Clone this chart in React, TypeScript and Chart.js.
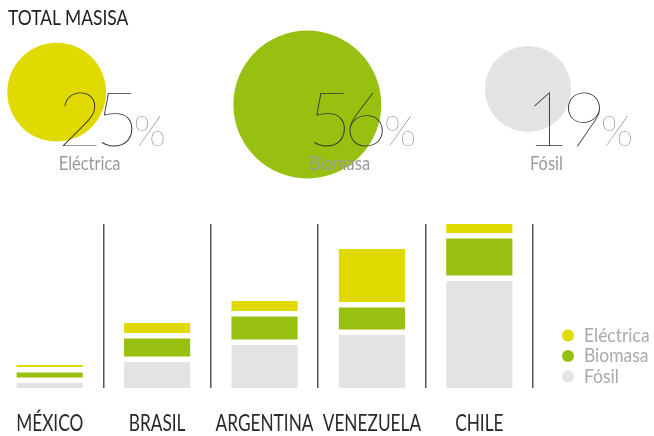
import React, { useEffect, useRef } from "react";
import { Chart, registerables } from "chart.js";

Chart.register(...registerables);

// ---------- data ----------
const TITLE_WORDS = ["TOTAL", "MASISA"];
const MIX_LABELS = ["Eléctrica", "Biomasa", "Fósil"];
const MIX_PERCENT = [25, 56, 19];
const MIX_COLORS = ["#E0DA00", "#98C010", "#E2E3E2"];

const COUNTRIES = ["MÉXICO", "BRASIL", "ARGENTINA", "VENEZUELA", "CHILE"];
const FOSIL = [5, 26, 43, 53, 107];
const BIOMASA = [5, 18, 23, 22, 37];
const ELECTRICA = [2, 10, 10, 53, 9];

// ---------- layout / style constants ----------
const BUBBLE_CX = [56.7, 307.3, 528];
const BUBBLE_K = 9.88; // px radius per sqrt(percent) -> area proportional
const SEG_GAP = 5.5;
const Y_MAX = 164;
const FONT = "Lato, 'Open Sans', sans-serif";

function drawText(
  ctx: CanvasRenderingContext2D,
  text: string,
  x: number,
  y: number,
  font: string,
  color: string,
  sx: number,
  align: CanvasTextAlign = "left"
) {
  ctx.save();
  ctx.font = font;
  ctx.fillStyle = color;
  ctx.textAlign = align;
  ctx.textBaseline = "alphabetic";
  ctx.translate(x, y);
  ctx.scale(sx, 1);
  ctx.fillText(text, 0, 0);
  const w = ctx.measureText(text).width * sx;
  ctx.restore();
  return w;
}

// draws glyphs packed by their visible ink (proportional figures); returns right edge of ink
function drawPacked(
  ctx: CanvasRenderingContext2D,
  text: string,
  x: number,
  y: number,
  font: string,
  color: string,
  sx: number,
  gap: number
) {
  ctx.save();
  ctx.font = font;
  ctx.fillStyle = color;
  ctx.textAlign = "left";
  ctx.textBaseline = "alphabetic";
  let cursor = x;
  let end = x;
  for (const ch of text) {
    const m = ctx.measureText(ch);
    const l = m.actualBoundingBoxLeft;
    const r = m.actualBoundingBoxRight;
    ctx.save();
    ctx.translate(cursor + l * sx, y);
    ctx.scale(sx, 1);
    ctx.fillText(ch, 0, 0);
    ctx.restore();
    end = cursor + (l + r) * sx;
    cursor = end + gap;
  }
  ctx.restore();
  return end;
}

export default function App() {
  const topRef = useRef<HTMLCanvasElement | null>(null);
  const barRef = useRef<HTMLCanvasElement | null>(null);

  useEffect(() => {
    const topText = {
      id: "topText",
      afterDatasetsDraw(chart: any) {
        const ctx = chart.ctx as CanvasRenderingContext2D;
        drawText(ctx, TITLE_WORDS[0], 8, 25, `400 21px ${FONT}`, "#222", 0.83);
        drawText(ctx, TITLE_WORDS[1], 65, 25, `400 21px ${FONT}`, "#222", 0.83);
        const meta = chart.getDatasetMeta(0);
        MIX_PERCENT.forEach((v, i) => {
          const el = meta.data[i];
          const end = drawPacked(ctx, String(v), el.x + 6, 146, `100 77px ${FONT}`, "#333", 1.0, 4);
          drawPacked(ctx, "%", end + 3, 146, `100 42px ${FONT}`, "#666", 1.0, 0);
          drawText(ctx, MIX_LABELS[i], el.x + 2, 169.5, `400 18.5px ${FONT}`, "#9a9a9a", 0.89);
        });
      },
    };

    const top = new Chart(topRef.current as HTMLCanvasElement, {
      type: "bubble",
      data: {
        datasets: [
          {
            data: MIX_PERCENT.map((v, i) => {
              const r = BUBBLE_K * Math.sqrt(v);
              return { x: BUBBLE_CX[i], y: 67.5 + r / 2, r };
            }),
            backgroundColor: MIX_COLORS,
            borderWidth: 0,
            hoverRadius: 0,
            clip: false,
          } as any,
        ],
      },
      options: {
        animation: false,
        responsive: false,
        events: [],
        layout: { padding: 0, autoPadding: false } as any,
        scales: {
          x: { type: "linear", display: false, min: 0, max: 654 },
          y: { type: "linear", display: false, min: 0, max: 200, reverse: true },
        },
        plugins: { legend: { display: false }, tooltip: { enabled: false } },
      },
      plugins: [topText],
    });

    const fosilData = FOSIL.map((v) => [0, v]);
    const bioData = BIOMASA.map((v, i) => {
      const s = FOSIL[i] + SEG_GAP;
      return [s, s + v];
    });
    const eleData = ELECTRICA.map((v, i) => {
      const s = FOSIL[i] + BIOMASA[i] + 2 * SEG_GAP;
      return [s, s + v];
    });

    const barText = {
      id: "barText",
      afterDraw(chart: any) {
        const ctx = chart.ctx as CanvasRenderingContext2D;
        const xs = chart.scales.x;
        COUNTRIES.forEach((c, i) => {
          drawText(ctx, c, xs.getPixelForValue(i), 231, `400 23px ${FONT}`, "#2a2a2a", 0.75, "center");
        });
        // legend (top to bottom: reverse of stack order)
        const ds = chart.data.datasets.slice().reverse();
        ds.forEach((d: any, i: number) => {
          const base = 141.5 + i * 20.5;
          ctx.save();
          ctx.fillStyle = d.backgroundColor;
          ctx.beginPath();
          ctx.arc(572, base - 6, 6, 0, Math.PI * 2);
          ctx.fill();
          ctx.restore();
          drawText(ctx, d.label, 588, base, `400 19px ${FONT}`, "#aaaaaa", 0.92);
        });
      },
    };

    const bars = new Chart(barRef.current as HTMLCanvasElement, {
      type: "bar",
      data: {
        labels: COUNTRIES,
        datasets: [
          { label: MIX_LABELS[2], data: fosilData as any, backgroundColor: MIX_COLORS[2] },
          { label: MIX_LABELS[1], data: bioData as any, backgroundColor: MIX_COLORS[1] },
          { label: MIX_LABELS[0], data: eleData as any, backgroundColor: MIX_COLORS[0] },
        ],
      },
      options: {
        animation: false,
        responsive: false,
        events: [],
        layout: { padding: { left: 0, right: 121, top: 24, bottom: 48 } },
        datasets: { bar: { categoryPercentage: 1, barPercentage: 0.616, borderWidth: 0 } } as any,
        scales: {
          x: {
            stacked: true,
            offset: true,
            grid: {
              offset: true,
              drawTicks: false,
              lineWidth: 1.5,
              color: (c: any) => (c.index === 0 ? "rgba(0,0,0,0)" : "#555"),
            },
            border: { display: false },
            ticks: { display: false },
          },
          y: { display: false, min: 0, max: Y_MAX },
        },
        plugins: { legend: { display: false }, tooltip: { enabled: false } },
      },
      plugins: [barText],
    });

    const fonts: any = (document as any).fonts;
    if (fonts && fonts.load) {
      Promise.all([fonts.load(`100 77px Lato`), fonts.load(`400 20px Lato`)])
        .then(() => {
          top.draw();
          bars.draw();
        })
        .catch(() => {});
    }

    return () => {
      top.destroy();
      bars.destroy();
    };
  }, []);

  return (
    <div
      style={{
        position: "absolute",
        left: 0,
        top: 0,
        width: 654,
        height: 436,
        overflow: "hidden",
        background: "#fff",
      }}
    >
      <canvas
        ref={topRef}
        width={654}
        height={200}
        style={{ position: "absolute", left: 0, top: 0, width: 654, height: 200 }}
      />
      <canvas
        ref={barRef}
        width={658}
        height={236}
        style={{ position: "absolute", left: -4, top: 200, width: 658, height: 236 }}
      />
    </div>
  );
}
